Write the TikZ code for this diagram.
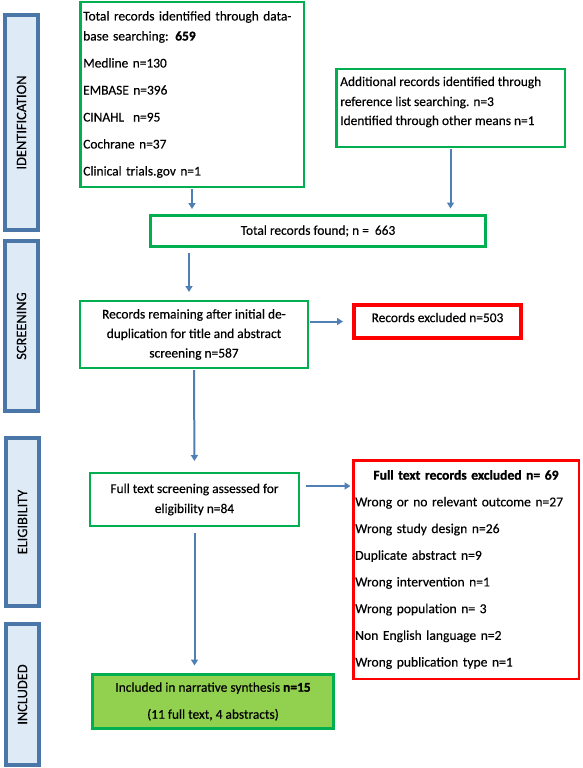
\documentclass[tikz,border=0pt]{standalone}
\usepackage{fontspec}
\setmainfont{Carlito}[UprightFeatures={FakeBold=0.3}]
\newfontfamily\realbold{Carlito}[BoldFeatures={FakeBold=1.2}]
\newcommand\hb[1]{{\realbold\bfseries #1}}
\usetikzlibrary{arrows.meta,calc}
\definecolor{boxgreen}{HTML}{00B050}
\definecolor{boxred}{HTML}{FF0000}
\definecolor{barstroke}{HTML}{4A76A8}
\definecolor{barfill}{HTML}{DEEAF6}
\definecolor{arrowblue}{HTML}{4F7FB5}
\definecolor{inclfill}{HTML}{92D050}
\begin{document}
\begin{tikzpicture}[x=1pt,y=-1pt,
  bodyfont/.style={font=\fontsize{13.4}{20}\selectfont},
  gbox/.style={draw=boxgreen, line width=2.5pt, fill=white, inner sep=0pt, bodyfont},
  rbox/.style={draw=boxred, line width=2.5pt, fill=white, inner sep=0pt, bodyfont},
  phase/.style={draw=barstroke, fill=barfill, line width=4pt, rotate=90, inner sep=0pt,
     font=\fontsize{14.4}{16}\selectfont},
  arr/.style={draw=arrowblue, line width=2pt, -{Triangle[width=7pt,length=6pt]}}
]
\useasboundingbox (0,0) rectangle (583,768);

% phase bars
\node[phase, minimum width=215pt, minimum height=33pt] (pid) at (21.5,122.5) {IDENTIFICATION};
\node[phase, minimum width=170pt, minimum height=33pt] (pscr) at (21.5,326) {SCREENING};
\node[phase, minimum width=168pt, minimum height=33pt] (pel) at (22.5,522) {ELIGIBILITY};
\node[phase, minimum width=141pt, minimum height=33pt] (pin) at (22.5,694.5) {INCLUDED};

% boxes
\node[gbox, minimum width=223.5pt, minimum height=184.5pt, text width=217.5pt, align=left]
  (db) at (192,94.5) {Total records identified through data-\\
  base searching: \hb{659}\\[7pt]
  Medline n=130\\[7pt]
  EMBASE n=396\\[7pt]
  CINAHL\ \ n=95\\[7pt]
  Cochrane n=37\\[7pt]
  Clinical trials.gov n=1};

\node[gbox, minimum width=228.5pt, minimum height=77.5pt]
  (add) at (450.5,108) {\raisebox{6pt}[\height][\depth]{\parbox{220.5pt}{Additional records identified through\\
  reference list searching. n=3\\[-1pt]
  Identified through other means n=1}}};

\node[gbox, line width=3pt, minimum width=335pt, minimum height=31pt]
  (tot) at (318,231) {Total records found; n =\ \ 663};

\node[gbox, line width=2pt, minimum width=228pt, minimum height=67pt, align=center, font=\fontsize{13.4}{19.5}\selectfont]
  (rem) at (194,334.5) {Records remaining after initial de-\\
  duplication for title and abstract\\
  screening n=587};

\node[rbox, line width=4pt, minimum width=167pt, minimum height=33pt]
  (exc) at (437.5,321.5) {\raisebox{4pt}[\height][\depth]{Records excluded n=503}};

\node[gbox, line width=2pt, minimum width=209pt, minimum height=53pt, align=center]
  (full) at (194.5,499.5) {Full text screening assessed for\\ eligibility n=84};

\node[rbox, minimum width=225.5pt, minimum height=218.5pt, text width=221.5pt, align=left,
  font=\fontsize{13.6}{26.7}\selectfont]
  (fexc) at (466,569.5) {\makebox[\linewidth]{\hb{Full text records excluded n= 69}}\\
  Wrong or no relevant outcome n=27\\
  Wrong study design n=26\\
  Duplicate abstract n=9\\
  Wrong intervention n=1\\
  Wrong population n= 3\\
  Non English language n=2\\
  Wrong publication type n=1};

\node[gbox, line width=3pt, fill=inclfill, minimum width=241pt, minimum height=54pt, align=center,
  font=\fontsize{13.4}{27}\selectfont]
  (inc) at (213,701.5) {Included in narrative synthesis \hb{n=15}\\ (11 full text, 4 abstracts)};

% connectors
\draw[arr, shorten <=1pt, shorten >=5pt] (db.south) -- (db.south |- tot.north);
\draw[arr, shorten <=1pt, shorten >=5.5pt] (add.south) -- (add.south |- tot.north);
\draw[arr, shorten <=4.5pt, shorten >=8pt] ($(tot.south -| rem.north)+(-5,0)$) -- ($(rem.north)+(-5,0)$);
\draw[arr, shorten <=1pt, shorten >=11pt] (rem.south) -- (full.north);
\draw[arr, shorten <=1pt, shorten >=9pt] (rem.east |- exc.west) -- (exc.west);
\draw[arr, shorten <=6pt, shorten >=1.5pt] ($(full.east)+(0,-13.5)$) -- ($(full.east -| fexc.west)+(0,-13.5)$);
\draw[arr, shorten <=6pt, shorten >=7.5pt] (full.south) -- (full.south |- inc.north);
\end{tikzpicture}
\end{document}
